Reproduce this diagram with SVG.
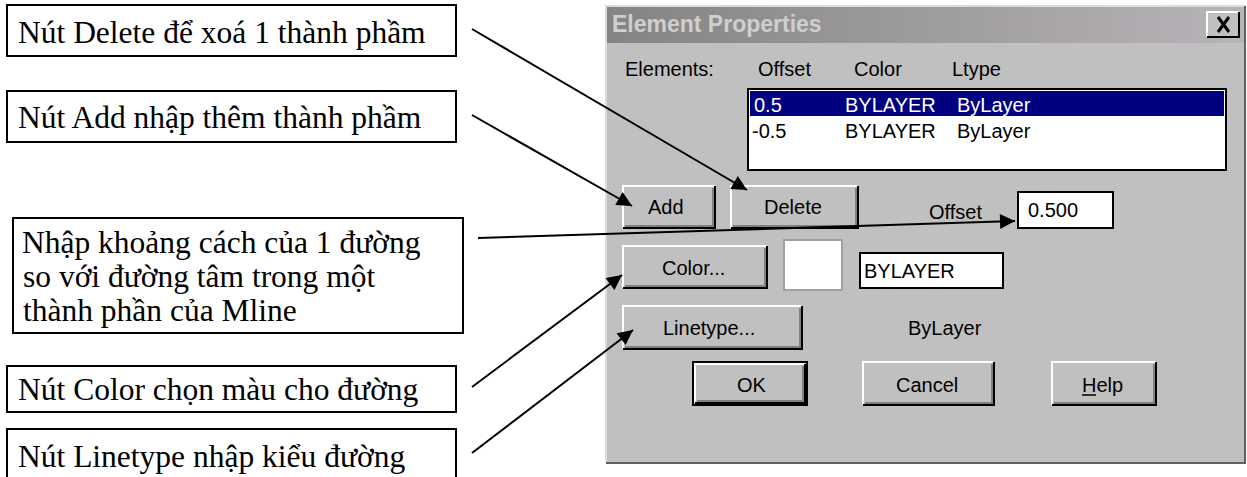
<svg xmlns="http://www.w3.org/2000/svg" width="1247" height="477" viewBox="0 0 1247 477">
<defs>
<linearGradient id="tb" x1="0" y1="0" x2="1" y2="0">
<stop offset="0" stop-color="#848484"/>
<stop offset="1" stop-color="#b8b3b8"/>
</linearGradient>
<marker id="ah" viewBox="0 0 10 10" refX="10" refY="5" markerWidth="20" markerHeight="15" markerUnits="userSpaceOnUse" orient="auto">
<path d="M0,0 L10,5 L0,10 z" fill="#000"/>
</marker>
</defs>
<style>
.cb{fill:#fff;stroke:#000;stroke-width:2}
.ct{font-family:"Liberation Serif","Times New Roman",serif;font-size:31.5px;fill:#000}
.ui{font-family:"Liberation Sans",Arial,sans-serif;font-size:20px;fill:#000}
.face{fill:#c0c0c0}
.hi{fill:none;stroke:#fff;stroke-width:2}
.sh{fill:none;stroke:#000;stroke-width:2}
.sh2{fill:none;stroke:#808080;stroke-width:2}
.edit{fill:#fff;stroke:#000;stroke-width:2}
.conn{stroke:#000;stroke-width:2;fill:none;marker-end:url(#ah)}
</style>
<rect width="1247" height="477" fill="#fff"/>

<g id="dialog">
<rect x="606" y="6" width="639" height="457" fill="#c0c0c0"/>
<path d="M606,463 L606,6 L1245,6" fill="none" stroke="#dcdcdc" stroke-width="2"/>
<path d="M606,463 L1245,463 L1245,6" fill="none" stroke="#606060" stroke-width="2"/>
<rect x="607" y="7" width="637" height="36" fill="url(#tb)"/>
<text x="612" y="32" font-family="Liberation Sans,Arial,sans-serif" font-size="23" font-weight="bold" fill="#cfcfcf">Element Properties</text>
<g id="close-btn">
<rect x="1207" y="12" width="32" height="25" class="face"/>
<path d="M1207,37 L1207,12 L1239,12" class="hi"/>
<path d="M1207,37 L1239,37 L1239,12" class="sh"/>
<path d="M1218,17 L1229,32 M1229,17 L1218,32" stroke="#000" stroke-width="3"/>
</g>
<text class="ui" x="625" y="76">Elements:</text>
<text class="ui" x="758" y="76">Offset</text>
<text class="ui" x="854" y="76">Color</text>
<text class="ui" x="952" y="76">Ltype</text>
<g id="listbox">
<rect x="748" y="89" width="478" height="81" fill="#fff" stroke="#000" stroke-width="2"/>
<rect x="750" y="91" width="474" height="25" fill="#000080"/>
<text class="ui" x="754" y="112" fill="#fff" style="fill:#fff">0.5</text>
<text class="ui" x="845" y="112" style="fill:#fff">BYLAYER</text>
<text class="ui" x="957" y="112" style="fill:#fff">ByLayer</text>
<text class="ui" x="752" y="138">-0.5</text>
<text class="ui" x="845" y="138">BYLAYER</text>
<text class="ui" x="957" y="138">ByLayer</text>
</g>
<g id="add-btn">
<rect x="623" y="186" width="92" height="42" class="face"/>
<path d="M623,228 L623,186 L715,186" class="hi"/>
<path d="M625,226 L713,226 L713,188" class="sh2"/>
<path d="M623,228 L715,228 L715,186" class="sh"/>
<text class="ui" x="648" y="214">Add</text>
</g>
<g id="delete-btn">
<rect x="731" y="186" width="127" height="42" class="face"/>
<path d="M731,228 L731,186 L858,186" class="hi"/>
<path d="M733,226 L856,226 L856,188" class="sh2"/>
<path d="M731,228 L858,228 L858,186" class="sh"/>
<text class="ui" x="764" y="214">Delete</text>
</g>
<text class="ui" x="929" y="219">Offset</text>
<g id="offset-edit">
<rect x="1018" y="192" width="95" height="36" class="edit"/>
<text class="ui" x="1028" y="217">0.500</text>
</g>
<g id="color-btn">
<rect x="623" y="246" width="144" height="42" class="face"/>
<path d="M623,288 L623,246 L767,246" class="hi"/>
<path d="M625,286 L765,286 L765,248" class="sh2"/>
<path d="M623,288 L767,288 L767,246" class="sh"/>
<text class="ui" x="662" y="275">Color...</text>
</g>
<g id="swatch">
<rect x="784" y="240" width="58" height="50" fill="#fff" stroke="#a0a0a0" stroke-width="2"/>
</g>
<g id="color-edit">
<rect x="860" y="253" width="143" height="35" class="edit"/>
<text class="ui" x="864" y="278">BYLAYER</text>
</g>
<g id="linetype-btn">
<rect x="623" y="306" width="179" height="43" class="face"/>
<path d="M623,349 L623,306 L802,306" class="hi"/>
<path d="M625,347 L800,347 L800,308" class="sh2"/>
<path d="M623,349 L802,349 L802,306" class="sh"/>
<text class="ui" x="663" y="335">Linetype...</text>
</g>
<text class="ui" x="908" y="335">ByLayer</text>
<g id="ok-btn">
<rect x="693" y="362" width="114" height="43" class="face" stroke="#000" stroke-width="2"/>
<path d="M695,403 L695,364 L805,364" class="hi"/>
<path d="M697,401 L803,401 L803,366" class="sh2"/>
<path d="M695,403 L805,403 L805,364" class="sh"/>
<text class="ui" x="737" y="392">OK</text>
</g>
<g id="cancel-btn">
<rect x="863" y="362" width="131" height="43" class="face"/>
<path d="M863,405 L863,362 L994,362" class="hi"/>
<path d="M865,403 L992,403 L992,364" class="sh2"/>
<path d="M863,405 L994,405 L994,362" class="sh"/>
<text class="ui" x="896" y="392">Cancel</text>
</g>
<g id="help-btn">
<rect x="1052" y="362" width="104" height="43" class="face"/>
<path d="M1052,405 L1052,362 L1156,362" class="hi"/>
<path d="M1054,403 L1154,403 L1154,364" class="sh2"/>
<path d="M1052,405 L1156,405 L1156,362" class="sh"/>
<text class="ui" x="1082" y="392">Help</text>
<line x1="1082" y1="395" x2="1096" y2="395" stroke="#000" stroke-width="1.5"/>
</g>
</g>

<g id="callout-delete">
<rect x="7" y="5" width="449" height="51" class="cb"/>
<text class="ct" x="18" y="43">Nút Delete để xoá 1 thành phầm</text>
</g>
<g id="callout-add">
<rect x="7" y="91" width="449" height="51" class="cb"/>
<text class="ct" x="18" y="128">Nút Add nhập thêm thành phầm</text>
</g>
<g id="callout-offset">
<rect x="13" y="218" width="450" height="115" class="cb"/>
<text class="ct" x="22" y="253">Nhập khoảng cách của 1 đường</text>
<text class="ct" x="23" y="287">so với đường tâm trong một</text>
<text class="ct" x="23" y="321">thành phần của Mline</text>
</g>
<g id="callout-color">
<rect x="7" y="366" width="449" height="46" class="cb"/>
<text class="ct" x="18" y="400">Nút Color chọn màu cho đường</text>
</g>
<g id="callout-linetype">
<rect x="7" y="429" width="449" height="60" class="cb"/>
<text class="ct" x="18" y="467">Nút Linetype nhập kiểu đường</text>
</g>

<g id="connectors">
<line class="conn" x1="472" y1="29" x2="747" y2="190"/>
<line class="conn" x1="472" y1="115" x2="632" y2="206"/>
<line class="conn" x1="478" y1="238" x2="1015" y2="221"/>
<line class="conn" x1="472" y1="387" x2="622" y2="275"/>
<line class="conn" x1="472" y1="453" x2="633" y2="330"/>
</g>
</svg>
